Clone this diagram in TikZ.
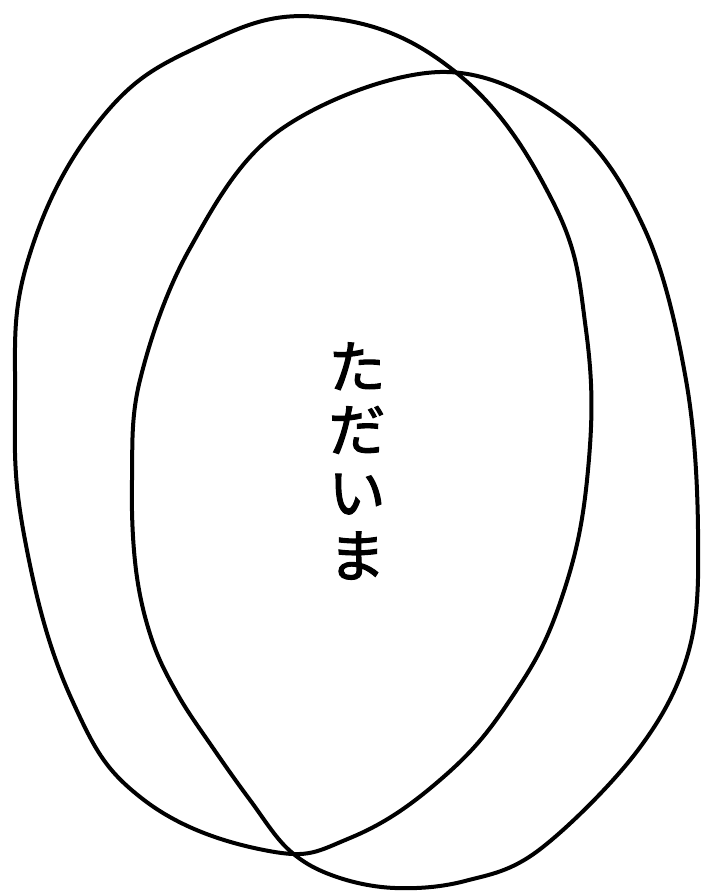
\documentclass[tikz,border=0pt]{standalone}
\usepackage{fontspec}
\newfontfamily\jpfont[FakeBold=2]{Noto Sans CJK JP}
\usetikzlibrary{positioning}
\tikzset{bubble/.style={line width=4pt,line join=round}}

\begin{document}
\begin{tikzpicture}[x=1pt,y=-1pt]
\useasboundingbox (0,0) rectangle (704,896);
% left oval
\draw[bubble] plot[smooth cycle,tension=0.7] coordinates {
  (320,17) (453,70) (552,200) (586,330) (588,470) (561,600) (510,700)
  (440,780) (350,838) (269,851) (144,800) (72,700) (25,540) (15,400)
  (28,260) (100,120) (200,46)};
% right oval
\draw[bubble] plot[smooth cycle,tension=0.6] coordinates {
  (440,72) (568,122) (645,230) (686,380) (698,530) (689,650) (638,750)
  (539,850) (465,881) (395,888) (334,876) (289,850) (250,800) (213,748)
  (178,695) (152,640) (136,570) (132,480) (140,380) (189,250) (280,130)};
% vertical text
\node[font=\jpfont\fontsize{57}{63}\selectfont,align=center,inner sep=0pt] (tadaima) at (357,461) {た\\だ\\い\\ま};
\end{tikzpicture}
\end{document}
